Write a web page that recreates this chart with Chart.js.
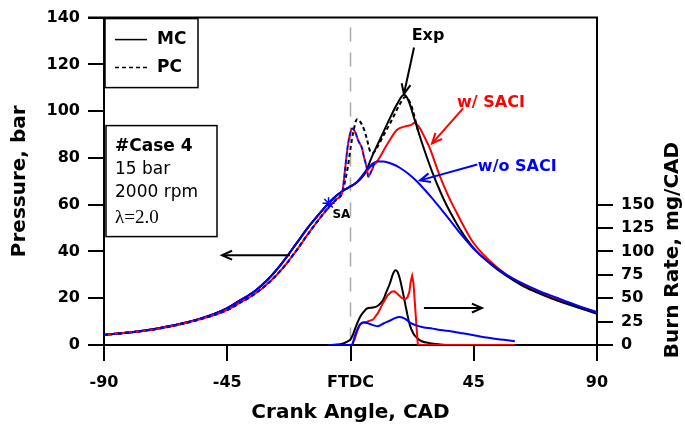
<!DOCTYPE html>
<html>
<head>
<meta charset="utf-8">
<script src="https://cdn.jsdelivr.net/npm/chart.js@4.4.1/dist/chart.umd.min.js"></script>
<style>
  html, body { margin: 0; padding: 0; background: #fff; }
  canvas { display: block; }
</style>
</head>
<body>
<canvas id="chart" width="685" height="425"></canvas>
<script>
// ---- data ----
const cadTicks = [-90, -45, 0, 45, 90];
const cadTickText = ['-90', '-45', 'FTDC', '45', '90'];
const pressureTicks = [0, 20, 40, 60, 80, 100, 120, 140];
const burnTicks = [0, 25, 50, 75, 100, 125, 150];

// main chamber, compression (shared by all MC curves)
const compCad = [-90, -80, -70, -60, -50, -45, -40, -35, -30, -25, -20, -15, -10, -8, -5, -2];
const compP   = [4.3, 5.5, 7.2, 9.6, 13.2, 15.8, 19.3, 23, 28.2, 35, 43, 51, 58, 60.6, 64, 66.5];

// MC after FTDC
const expCad  = [0, 2, 4, 5.5, 8, 10.8, 14.4, 17, 19.5, 21, 23.5, 26.5, 30, 33, 35, 40, 45, 51, 57, 63, 69, 75, 80, 90];
const expP    = [67.8, 69.3, 71.5, 74, 81, 88, 97, 103, 107, 105, 96, 85, 73.5, 65, 60, 49.5, 41.4, 34.8, 29.5, 25.2, 22, 19.2, 17.2, 13.3];
const saciCad = [0, 2, 4, 6, 8, 9.7, 12, 14, 17, 20, 22, 23.5, 24.5, 25.4, 27, 29, 32.7, 36, 39, 41, 45, 51, 57, 63, 69, 75, 80, 90];
const saciP   = [67.8, 69.3, 71.5, 74.5, 77, 78.5, 83, 87, 92, 93.5, 94, 95, 94, 92.6, 89, 84, 72, 63, 56, 51.5, 43.5, 35.8, 30, 25.8, 22.6, 19.6, 17.6, 13.8];
const noSaciCad = [0, 2, 4, 6, 8, 9.7, 12, 15, 18, 21, 24, 27, 30, 33, 36, 40, 44.7, 50, 57, 63, 69, 75, 82, 90];
const noSaciP   = [67.8, 69.3, 72, 75, 77.5, 78.5, 78.5, 77.5, 75.8, 73.3, 70.2, 66.5, 62.5, 58.2, 53.8, 47.8, 41.5, 35.8, 30, 26.2, 23, 20.3, 17.2, 14];

// pre-chamber (PC)
const pcCompCad = [-90, -70, -50, -45, -40, -35, -30, -25, -20, -15, -10, -8, -5, -3];
const pcCompP   = [4.3, 7.0, 12.7, 15.0, 18.3, 21.8, 26.5, 32.5, 40, 48.3, 56, 58.8, 62.5, 65.3];
const pcExpCad  = [-2, -1, 0, 1, 2.4, 3.5, 5, 6, 7.1, 8, 10, 12, 15, 18, 20, 22, 25];
const pcExpP    = [70, 76, 84, 91, 96.5, 95.5, 92, 88, 83, 82, 85, 89.5, 96, 103, 106, 103, 90];
const pcSimCad  = [-2, -1, 0, 0.7, 1.5, 3, 4.1, 5, 5.9, 6.5, 7.5, 8.5, 9.7];
const pcNoSaciP = [75, 85, 91, 92.6, 91.5, 87, 84.5, 80, 76, 72, 74, 77, 78.5];
const pcSaciP   = [75, 85, 91, 92.6, 91.5, 87, 84.5, 80, 76, 72, 74, 76.5, 78.5];

// burn rate, mg/CAD
const brExpCad = [-8, -5, -3, -1, 0, 1, 2, 3.5, 5, 6, 8.2, 10, 11.9, 13, 14.4, 15.5, 16.4, 17.2, 18, 19, 19.9, 20.8, 21.7, 23, 24.3, 26, 29, 32, 35];
const brExp    = [0, 0.5, 1.5, 4, 6, 12, 20, 30, 36, 39, 40, 42, 48, 56, 66, 76, 80, 78, 71, 58, 45, 32, 21, 12, 7.4, 4, 2, 0.8, 0];
const brSaciCad = [-8, 0.5, 1.5, 2.5, 3.5, 4.6, 6, 8.2, 10, 11.9, 13.5, 15, 16, 17, 18.8, 20, 20.8, 21.5, 22, 22.5, 23, 23.5, 24, 24.6, 60];
const brSaci    = [0, 0, 6, 15, 22, 24, 25, 27, 34, 45, 53, 57, 57.5, 55, 50, 49, 51, 57, 68, 74, 66, 45, 24, 0, 0];
const brNoSaciCad = [-8, 0.5, 1.5, 2.7, 3.5, 4.6, 6, 7.1, 8.5, 10, 12, 14.4, 16, 18, 20, 21.7, 24, 26.5, 30, 32.7, 37, 41, 44, 47.3, 52, 56, 60];
const brNoSaci    = [0, 0, 9, 18, 22, 24, 23.5, 22.5, 21, 20, 23, 26, 28.5, 30, 28, 24, 21, 19, 17.5, 16, 14.5, 12.5, 11, 9, 7, 5.5, 4];

const saCad = [-8];
const saP = [60.6];

const pts = (xs, ys) => xs.map((x, i) => ({ x, y: ys[i] }));
const withComp = (xs, ys) => pts(compCad.concat(xs), compP.concat(ys));
const withPcComp = (xs, ys) => pts(pcCompCad.concat(xs), pcCompP.concat(ys));

const BLACK = '#000000', RED = '#ff0000', BLUE = '#0000ff';
const BOLD = 'bold 16px "DejaVu Sans", sans-serif';

function line(data, color, opts = {}) {
  return Object.assign({
    data, borderColor: color, backgroundColor: color, borderWidth: 2,
    pointRadius: 0, fill: false, cubicInterpolationMode: 'monotone', yAxisID: 'y'
  }, opts);
}

// ---- annotation drawing ----
function arrow(ctx, x1, y1, x2, y2, color) {
  const a = Math.atan2(y2 - y1, x2 - x1), h = 11, s = 0.42;
  ctx.strokeStyle = color; ctx.lineWidth = 2;
  ctx.beginPath(); ctx.moveTo(x1, y1); ctx.lineTo(x2, y2); ctx.stroke();
  ctx.beginPath();
  ctx.moveTo(x2 - h * Math.cos(a - s), y2 - h * Math.sin(a - s));
  ctx.lineTo(x2, y2);
  ctx.lineTo(x2 - h * Math.cos(a + s), y2 - h * Math.sin(a + s));
  ctx.stroke();
}

const decorations = {
  id: 'decorations',
  beforeDatasetsDraw(chart) {
    const { ctx, chartArea: a, scales: { x } } = chart;
    const px = x.getPixelForValue(0);
    ctx.save();
    ctx.strokeStyle = '#aaaaaa'; ctx.lineWidth = 1.5; ctx.setLineDash([14, 11]);
    ctx.beginPath(); ctx.moveTo(px, a.top + 10); ctx.lineTo(px, a.bottom); ctx.stroke();
    ctx.restore();
  },
  afterDraw(chart) {
    const { ctx, chartArea: a, scales: { x, y } } = chart;
    const X = v => x.getPixelForValue(v), Y = v => y.getPixelForValue(v);
    ctx.save();
    // top frame line
    ctx.strokeStyle = BLACK; ctx.lineWidth = 2;
    ctx.beginPath(); ctx.moveTo(a.left - 16, a.top); ctx.lineTo(a.right + 1, a.top); ctx.stroke();

    // legend box
    ctx.lineWidth = 1.5;
    ctx.strokeRect(a.left + 1, a.top + 1, 93, 69);
    ctx.beginPath(); ctx.moveTo(a.left + 11, a.top + 22); ctx.lineTo(a.left + 43, a.top + 22); ctx.stroke();
    ctx.setLineDash([4, 3]);
    ctx.beginPath(); ctx.moveTo(a.left + 11, a.top + 50); ctx.lineTo(a.left + 43, a.top + 50); ctx.stroke();
    ctx.setLineDash([]);
    ctx.fillStyle = BLACK; ctx.font = 'bold 17px "DejaVu Sans", sans-serif';
    ctx.textAlign = 'left'; ctx.textBaseline = 'middle';
    ctx.fillText('MC', a.left + 53, a.top + 22);
    ctx.fillText('PC', a.left + 53, a.top + 50);

    // case box
    ctx.strokeRect(a.left + 2, a.top + 108, 111, 111);
    ctx.fillText('#Case 4', a.left + 11, a.top + 129);
    ctx.font = '17px "DejaVu Sans", sans-serif';
    ctx.fillText('15 bar', a.left + 11, a.top + 152);
    ctx.fillText('2000 rpm', a.left + 11, a.top + 175);
    ctx.font = '19px "Liberation Serif", serif';
    ctx.fillText('\u03bb=2.0', a.left + 11, a.top + 200);

    // curve labels and arrows
    ctx.font = BOLD; ctx.textAlign = 'center';
    ctx.fillText('Exp', X(28.3), Y(132.3));
    arrow(ctx, X(23.2), Y(127.2), X(19.5), Y(107.3), BLACK);
    ctx.textAlign = 'left';
    ctx.fillStyle = RED;
    ctx.fillText('w/ SACI', X(38.9), Y(103.7));
    arrow(ctx, X(41.1), Y(101.2), X(29.8), Y(86.2), RED);
    ctx.fillStyle = BLUE;
    ctx.fillText('w/o SACI', X(46.5), Y(76));
    arrow(ctx, X(46.3), Y(77.2), X(25.4), Y(70.4), BLUE);
    ctx.fillStyle = BLACK;
    ctx.font = 'bold 12px "DejaVu Sans", sans-serif';
    ctx.fillText('SA', X(-6.6), Y(55.5));
    arrow(ctx, X(-22.1), Y(38.4), X(-46.9), Y(38.4), BLACK);
    arrow(ctx, X(26.8), Y(15.8), X(48), Y(15.8), BLACK);

    // axis titles
    ctx.font = 'bold 20px "DejaVu Sans", sans-serif';
    ctx.textAlign = 'center';
    ctx.fillText('Crank Angle, CAD', (a.left + a.right) / 2, 413);
    ctx.save();
    ctx.translate(20, (a.top + a.bottom) / 2); ctx.rotate(-Math.PI / 2);
    ctx.fillText('Pressure, bar', 0, 0);
    ctx.restore();
    ctx.save();
    ctx.translate(673, 250); ctx.rotate(-Math.PI / 2);
    ctx.fillText('Burn Rate, mg/CAD', 0, 0);
    ctx.restore();
    ctx.restore();
  }
};

const tickFont = { family: '"DejaVu Sans", sans-serif', weight: 'bold', size: 16 };
const axisGrid = { drawOnChartArea: false, drawTicks: true, tickLength: 16, color: BLACK, lineWidth: 2 };
const axisBorder = { display: true, color: BLACK, width: 2 };

new Chart(document.getElementById('chart'), {
  type: 'line',
  data: {
    datasets: [
      line(pts(saCad, saP), BLUE, { showLine: false, pointRadius: 6, pointStyle: 'star', pointBorderWidth: 1.5 }),
      line(withPcComp(pcSimCad, pcNoSaciP), BLUE, { borderDash: [4, 3] }),
      line(withPcComp(pcSimCad, pcSaciP), RED, { borderDash: [4, 3], borderDashOffset: 3.5 }),
      line(withPcComp(pcExpCad, pcExpP), BLACK, { borderDash: [4, 3] }),
      line(withComp(noSaciCad, noSaciP), BLUE),
      line(withComp(expCad, expP), BLACK),
      line(withComp(saciCad, saciP), RED),
      line(pts(brNoSaciCad, brNoSaci), BLUE, { yAxisID: 'y1' }),
      line(pts(brSaciCad, brSaci), RED, { yAxisID: 'y1', cubicInterpolationMode: 'default', tension: 0 }),
      line(pts(brExpCad, brExp), BLACK, { yAxisID: 'y1' })
    ]
  },
  options: {
    responsive: false,
    animation: false,
    devicePixelRatio: 1,
    layout: { padding: { top: 17, left: 0, right: 0, bottom: 0 } },
    plugins: { legend: { display: false }, tooltip: { enabled: false } },
    scales: {
      x: {
        type: 'linear', min: -90, max: 90,
        afterBuildTicks: s => { s.ticks = cadTicks.map(v => ({ value: v })); },
        afterFit: s => { s.height = 80; },
        ticks: { autoSkip: false, maxRotation: 0, padding: 12, color: BLACK, font: tickFont,
                 callback: (v, i) => cadTickText[i] },
        grid: axisGrid, border: axisBorder
      },
      y: {
        position: 'left', min: 0, max: 140,
        afterBuildTicks: s => { s.ticks = pressureTicks.map(v => ({ value: v })); },
        afterFit: s => { s.width = 104; },
        ticks: { autoSkip: false, padding: 8, color: BLACK, font: tickFont },
        grid: axisGrid, border: axisBorder
      },
      y1: {
        position: 'right', min: 0, max: 350,
        afterBuildTicks: s => { s.ticks = burnTicks.map(v => ({ value: v })); },
        afterFit: s => { s.width = 88; },
        ticks: { autoSkip: false, padding: 8, color: BLACK, font: tickFont },
        grid: axisGrid, border: axisBorder
      }
    }
  },
  plugins: [decorations]
});
</script>
</body>
</html>
